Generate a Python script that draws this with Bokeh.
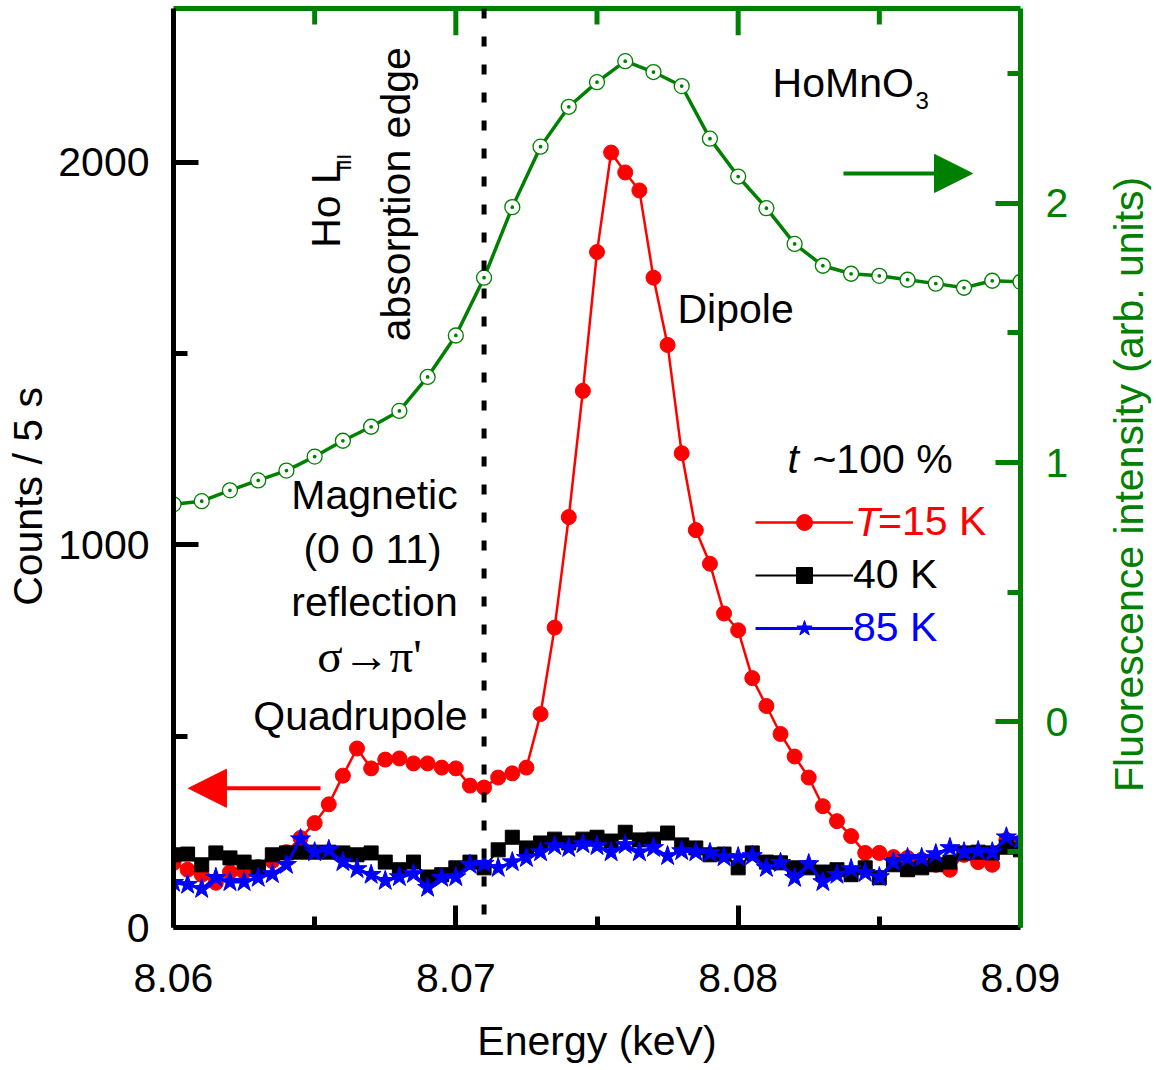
import math
from bokeh.plotting import figure
from bokeh.layouts import row
from bokeh.models import (Range1d, LinearAxis, FixedTicker, Label, Span, Arrow,
                          NormalHead, Legend, LegendItem, ColumnDataSource)
from bokeh.embed import file_html
from bokeh.resources import INLINE

# ---------------- data ----------------
energy = [8.0600, 8.0605, 8.0610, 8.0615, 8.0620, 8.0625, 8.0630, 8.0635, 8.0640, 8.0645,
          8.0650, 8.0655, 8.0660, 8.0665, 8.0670, 8.0675, 8.0680, 8.0685, 8.0690, 8.0695,
          8.0700, 8.0705, 8.0710, 8.0715, 8.0720, 8.0725, 8.0730, 8.0735, 8.0740, 8.0745,
          8.0750, 8.0755, 8.0760, 8.0765, 8.0770, 8.0775, 8.0780, 8.0785, 8.0790, 8.0795,
          8.0800, 8.0805, 8.0810, 8.0815, 8.0820, 8.0825, 8.0830, 8.0835, 8.0840, 8.0845,
          8.0850, 8.0855, 8.0860, 8.0865, 8.0870, 8.0875, 8.0880, 8.0885, 8.0890, 8.0895,
          8.0900]

counts_15K = [169, 151, 138, 117, 145, 145, 158, 174, 197, 234,
              273, 322, 397, 468, 416, 439, 442, 429, 429, 418,
              416, 371, 366, 392, 403, 418, 558, 784, 1073, 1403,
              1766, 2026, 1974, 1927, 1699, 1523, 1240, 1039, 951, 821,
              777, 652, 579, 506, 447, 392, 317, 278, 239, 195,
              195, 184, 182, 177, 164, 151, 190, 171, 164, 229, 223]

counts_40K = [190, 192, 164, 195, 182, 171, 158, 190, 195, 197,
              197, 197, 195, 190, 195, 171, 151, 171, 132, 138,
              156, 171, 156, 203, 236, 208, 221, 231, 221, 231,
              236, 226, 249, 229, 231, 247, 216, 208, 190, 192,
              156, 195, 171, 169, 156, 156, 145, 151, 138, 156,
              130, 164, 151, 156, 164, 171, 195, 197, 195, 210, 203]

counts_85K = [117, 112, 101, 130, 119, 119, 130, 140, 164, 231,
              197, 203, 171, 153, 138, 122, 132, 140, 104, 130,
              132, 164, 167, 156, 171, 182, 197, 213, 208, 218,
              213, 197, 216, 197, 208, 187, 200, 197, 195, 184,
              184, 187, 156, 169, 130, 166, 119, 138, 153, 143,
              132, 171, 182, 182, 192, 208, 197, 200, 197, 236, 229]

energy_fluo = [8.060, 8.061, 8.062, 8.063, 8.064, 8.065, 8.066, 8.067, 8.068, 8.069,
               8.070, 8.071, 8.072, 8.073, 8.074, 8.075, 8.076, 8.077, 8.078, 8.079,
               8.080, 8.081, 8.082, 8.083, 8.084, 8.085, 8.086, 8.087, 8.088, 8.089,
               8.090]
fluorescence = [0.839, 0.851, 0.893, 0.931, 0.969, 1.023, 1.084, 1.138, 1.199, 1.330,
                1.490, 1.713, 1.985, 2.218, 2.372, 2.467, 2.548, 2.506, 2.452, 2.249,
                2.103, 1.981, 1.843, 1.759, 1.728, 1.720, 1.705, 1.690, 1.674, 1.701,
                1.697]

x_ticks = [8.06, 8.07, 8.08, 8.09]
x_minor = [8.065, 8.075, 8.085]
top_major = [8.07, 8.08]
y_ticks = [0, 1000, 2000]
y_minor = [500, 1500]
y2_ticks = [0, 1, 2]
y2_minor = [-0.5, 0.5, 1.5, 2.5]
edge_energy = 8.071

# ---------------- styling ----------------
FONT = "Liberation Sans"
FS = "41px"
GREEN = "#008000"
RED = "#ff0000"
BLUE = "#0000ff"
BLACK = "#000000"
NB = "\u00a0"

W_MAIN, W_SIDE, H = 1106, 50, 1066
Y_TOP = 2402.6
Y2_RANGE = (-0.7931, 2.751)
p = figure(width=W_MAIN, height=H,
           x_range=Range1d(8.06, 8.09), y_range=Range1d(0, Y_TOP),
           output_backend="svg", toolbar_location=None,
           min_border_left=173, min_border_right=86,
           min_border_top=8, min_border_bottom=133)
p.extra_y_ranges = {"fl": Range1d(*Y2_RANGE)}
p.grid.visible = False
p.outline_line_color = None
p.background_fill_color = "white"
p.border_fill_color = "white"

def style_axis(ax, color, major_in, minor_in):
    ax.axis_line_color = color
    ax.axis_line_width = 5
    ax.major_tick_line_color = color
    ax.minor_tick_line_color = color
    ax.major_tick_line_width = 5
    ax.minor_tick_line_width = 5
    ax.major_tick_in = major_in
    ax.major_tick_out = 0
    ax.minor_tick_in = minor_in
    ax.minor_tick_out = 0
    ax.major_label_text_font = FONT
    ax.major_label_text_font_size = FS
    ax.major_label_text_color = color
    ax.axis_label_text_font = FONT
    ax.axis_label_text_font_size = FS
    ax.axis_label_text_font_style = "normal"
    ax.axis_label_text_color = color

xb = p.xaxis[0]
xb.ticker = FixedTicker(ticks=x_ticks, minor_ticks=x_minor)
style_axis(xb, BLACK, 22, 11)
xb.major_label_standoff = 36
xb.axis_label = "Energy (keV)"
xb.axis_label_standoff = 23

yl = p.yaxis[0]
yl.ticker = FixedTicker(ticks=y_ticks, minor_ticks=y_minor)
style_axis(yl, BLACK, 25, 14)
yl.major_label_standoff = 24
yl.axis_label = "Counts / 5 s" + NB * 5
yl.axis_label_standoff = 4

# top frame line (green), ticks drawn below
xt = LinearAxis(ticker=FixedTicker(ticks=[], minor_ticks=[]))
xt.axis_line_color = GREEN
xt.axis_line_width = 5
xt.major_tick_line_color = None
xt.minor_tick_line_color = None
p.add_layout(xt, "above")

yr = LinearAxis(y_range_name="fl", ticker=FixedTicker(ticks=y2_ticks, minor_ticks=y2_minor))
style_axis(yr, GREEN, 25, 13)
yr.major_label_standoff = 25
p.add_layout(yr, "right")

# top-axis ticks (inward, green)
px_per_count = 925 / Y_TOP
p.segment(x0=top_major, x1=top_major, y0=[Y_TOP] * len(top_major),
          y1=[Y_TOP - 27 / px_per_count] * len(top_major), line_color=GREEN, line_width=5)
p.segment(x0=x_minor, x1=x_minor, y0=[Y_TOP] * len(x_minor),
          y1=[Y_TOP - 16 / px_per_count] * len(x_minor), line_color=GREEN, line_width=5)

# ---------------- data renderers ----------------
src = ColumnDataSource(dict(e=energy, c15=counts_15K, c40=counts_40K, c85=counts_85K))
fsrc = ColumnDataSource(dict(e=energy_fluo, f=fluorescence))

g_line = p.line("e", "f", source=fsrc, y_range_name="fl", line_color=GREEN, line_width=3.5)
g_pts = p.scatter("e", "f", source=fsrc, y_range_name="fl", marker="circle_dot", size=15,
                  line_color=GREEN, fill_color="white", line_width=1.3)

r_line = p.line("e", "c15", source=src, line_color=RED, line_width=2.5)
r_pts = p.scatter("e", "c15", source=src, marker="circle", size=15,
                  fill_color=RED, line_color=RED)

k_line = p.line("e", "c40", source=src, line_color=BLACK, line_width=2)
k_pts = p.scatter("e", "c40", source=src, marker="square", size=14,
                  fill_color=BLACK, line_color=BLACK)

b_line = p.line("e", "c85", source=src, line_color=BLUE, line_width=3)
b_pts = p.scatter("e", "c85", source=src, marker="star", size=21,
                  fill_color=BLUE, line_color=BLUE)

# absorption edge
p.add_layout(Span(location=edge_energy, dimension="height", line_color=BLACK,
                  line_width=5, line_dash="10 18"))

# arrows
p.add_layout(Arrow(end=NormalHead(size=38, fill_color=RED, line_color=RED),
                   x_start=8.06521, y_start=364, x_end=8.06053, y_end=364,
                   line_color=RED, line_width=4))
p.add_layout(Arrow(end=NormalHead(size=38, fill_color=GREEN, line_color=GREEN),
                   x_start=8.08373, y_start=2.115, x_end=8.0883, y_end=2.115,
                   y_range_name="fl", line_color=GREEN, line_width=4))

# ---------------- text ----------------
DY = 31        # vertical correction (counts) for baseline placement
DX = 0.000425  # horizontal correction (keV) for rotated labels

def lab(fig, text, x, y, align="left", angle=0, size=FS, color=BLACK, style="normal",
        font=FONT, baseline="alphabetic", dx=DX, dy=DY):
    if angle == 0:
        y = y + dy
    else:
        x = x - dx
    fig.add_layout(Label(x=x, y=y, text=text, text_align=align, text_baseline=baseline,
                         angle=angle, text_font=font, text_font_size=size,
                         text_color=color, text_font_style=style))

for t, x, y in [("Magnetic", 8.06712, 1099), ("(0 0 11)", 8.06705, 958),
                ("reflection", 8.06712, 821), ("Quadrupole", 8.06662, 522)]:
    lab(p, t, x, y, align="center")
lab(p, "σ→π'", 8.06694, 678, align="center", font="Liberation Serif", size="47px")
lab(p, "Dipole", 8.07785, 1587)
lab(p, "HoMnO", 8.08122, 2177)
lab(p, "3", 8.08628, 2132, size="24px")
lab(p, "t", 8.08175, 1195, style="italic")
lab(p, "~100 %", 8.08263, 1195)
lab(p, "Ho L", 8.06584, 1777, angle=math.pi / 2)
lab(p, "III", 8.06645, 1979, angle=math.pi / 2, size="20px")
lab(p, "absorption edge", 8.06832, 1917, align="center", angle=math.pi / 2)
lab(p, "T", 8.08413, 1029, style="italic", color=RED)

# legends (one per entry so each label has its own colour)
def mk_legend(label, rends, color, loc, standoff):
    lg = Legend(items=[LegendItem(label=label, renderers=rends)], location=loc,
                glyph_width=98, glyph_height=40, label_height=40, label_standoff=standoff,
                padding=0, margin=0, spacing=0, border_line_color=None,
                background_fill_alpha=0, label_text_font=FONT, label_text_font_size=FS,
                label_text_color=color)
    p.add_layout(lg)

mk_legend("=15 K", [r_line, r_pts], RED, (582, 382), 25)
mk_legend("40 K", [k_line, k_pts], BLACK, (582, 329), 0)
mk_legend("85 K", [b_line, b_pts], BLUE, (582, 276), 0)

# ---------------- right-hand axis title (separate narrow canvas) ----------------
side = figure(width=W_SIDE, height=H, title=None,
              x_range=Range1d(W_MAIN, W_MAIN + W_SIDE), y_range=Range1d(H, 0),
              output_backend="svg", toolbar_location=None,
              x_axis_location=None, y_axis_location=None,
              min_border_left=0, min_border_right=0, min_border_top=0, min_border_bottom=0)
side.grid.visible = False
side.outline_line_color = None
side.background_fill_color = "white"
side.border_fill_color = "white"
lab(side, "Fluorescence intensity (arb. units)", 1140, 552, align="center",
    angle=math.pi / 2, color=GREEN, dx=12)

layout = row(p, side, spacing=0)
open("out.html", "w").write(file_html(layout, INLINE))
